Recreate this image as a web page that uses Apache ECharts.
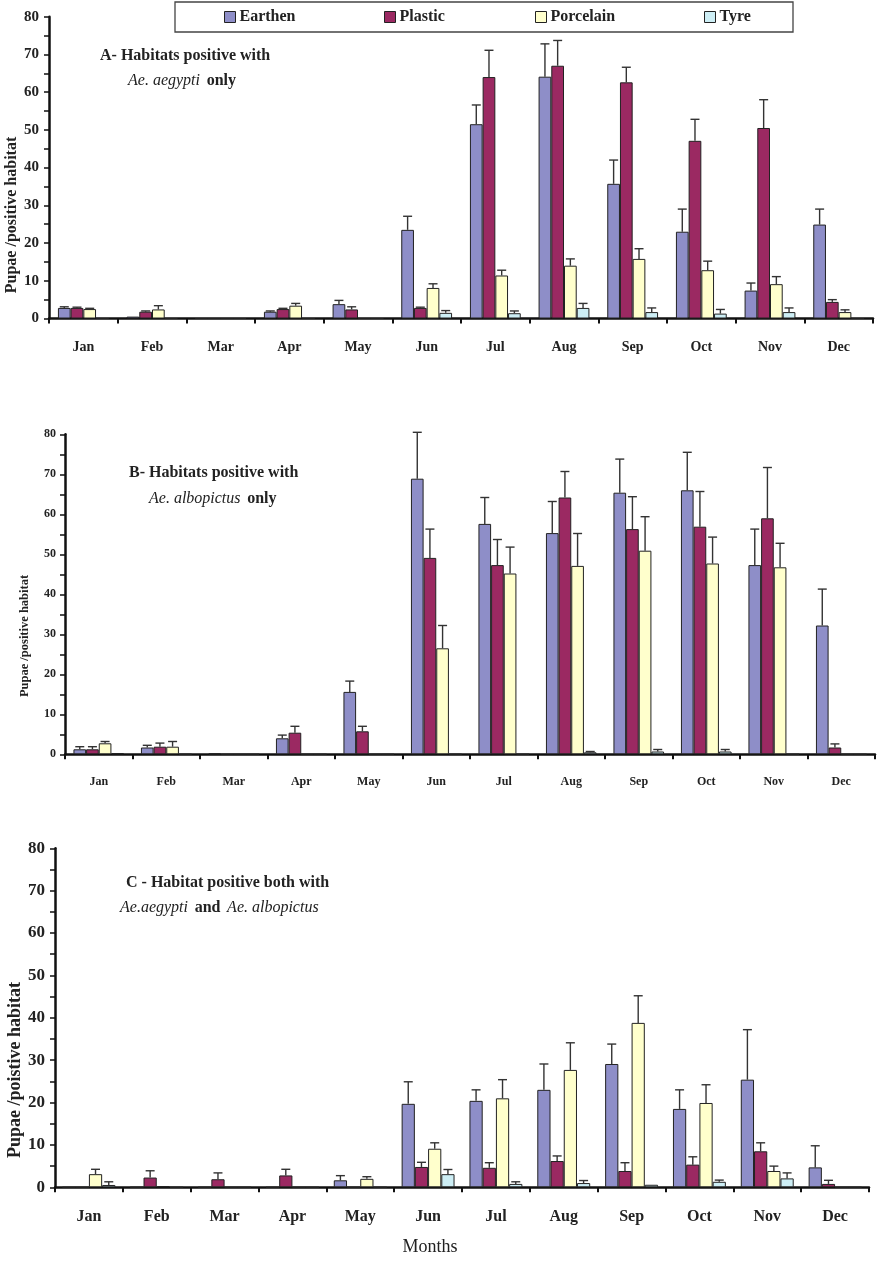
<!DOCTYPE html>
<html>
<head>
<meta charset="utf-8">
<script src="https://cdn.jsdelivr.net/npm/echarts@6/dist/echarts.min.js"></script>
<style>
  html, body { margin: 0; padding: 0; background: #fff; }
  #chart { width: 878px; height: 1262px; }
</style>
</head>
<body>
<div id="chart"></div>
<script>
// months on x axis
const months = ['Jan', 'Feb', 'Mar', 'Apr', 'May', 'Jun', 'Jul', 'Aug', 'Sep', 'Oct', 'Nov', 'Dec']
const materials = ['Earthen', 'Plastic', 'Porcelain', 'Tyre']

// A - Ae. aegypti only (mean, + SE)
const aEarthen = [2.8, 0.5, 0, 1.8, 3.8, 23.5, 51.5, 64.1, 35.7, 23, 7.4, 24.9]
const aEarthenErr = [0.3, 0, 0, 0.2, 1.0, 3.6, 5.1, 8.7, 6.3, 6.0, 2.0, 4.1]
const aPlastic = [2.8, 1.8, 0, 2.5, 2.4, 2.8, 64, 67, 62.6, 47.1, 50.5, 4.4]
const aPlasticErr = [0.2, 0.2, 0, 0.2, 0.7, 0.2, 7.1, 6.7, 4.0, 5.7, 7.5, 0.6]
const aPorcelain = [2.5, 2.4, 0, 3.4, 0, 8.1, 11.4, 14, 15.8, 12.8, 9.1, 1.7]
const aPorcelainErr = [0.2, 1.0, 0, 0.6, 0, 1.1, 1.4, 1.8, 2.7, 2.4, 2.0, 0.6]
const aTyre = [0, 0, 0, 0, 0, 1.5, 1.4, 2.8, 1.7, 1.3, 1.7, 0]
const aTyreErr = [0, 0, 0, 0, 0, 0.6, 0.6, 1.2, 1.1, 1.1, 1.1, 0]

// B - Ae. albopictus only
const bEarthen = [1.25, 1.7, 0.2, 4, 15.6, 68.9, 57.6, 55.3, 65.4, 66, 47.3, 32.2]
const bEarthenErr = [0.65, 0.55, 0, 0.8, 2.7, 11.6, 6.6, 7.9, 8.4, 9.5, 9.0, 9.1]
const bPlastic = [1.25, 1.9, 0, 5.4, 5.75, 49.1, 47.3, 64.2, 56.3, 56.9, 59, 1.7]
const bPlasticErr = [0.65, 0.9, 0, 1.6, 1.25, 7.2, 6.4, 6.5, 8.1, 8.8, 12.7, 0.9]
const bPorcelain = [2.75, 1.9, 0, 0, 0, 26.5, 45.2, 47.1, 50.9, 47.7, 46.75, 0]
const bPorcelainErr = [0.45, 1.3, 0, 0, 0, 5.7, 6.6, 8.1, 8.5, 6.6, 6.0, 0]
const bTyre = [0.3, 0, 0, 0, 0, 0, 0, 0.5, 0.7, 0.7, 0, 0]
const bTyreErr = [0, 0, 0, 0, 0, 0, 0, 0.2, 0.5, 0.5, 0, 0]

// C - both species
const cEarthen = [0, 0, 0, 0, 1.65, 19.7, 20.4, 23, 29.1, 18.5, 25.4, 4.7]
const cEarthenErr = [0, 0, 0, 0, 1.1, 5.2, 2.6, 6.1, 4.7, 4.5, 11.8, 5.1]
const cPlastic = [0, 2.3, 1.9, 2.8, 0, 4.8, 4.6, 6.2, 3.85, 5.35, 8.5, 0.8]
const cPlasticErr = [0, 1.6, 1.5, 1.45, 0, 1.1, 1.2, 1.2, 1.95, 1.85, 2.0, 0.85]
const cPorcelain = [3.1, 0.3, 0, 0, 2.0, 9.1, 21, 27.7, 38.8, 19.9, 3.85, 0]
const cPorcelainErr = [1.15, 0, 0, 0, 0.5, 1.4, 4.4, 6.4, 6.4, 4.3, 1.15, 0]
const cTyre = [0.55, 0, 0, 0, 0, 3.1, 0.8, 1.0, 0.6, 1.3, 2.1, 0]
const cTyreErr = [0.75, 0, 0, 0, 0, 1.1, 0.5, 0.6, 0, 0.4, 1.3, 0]

const colors = ['#8e8ec8', '#9b2962', '#ffffcc', '#cdeef5']
const serif = '"Liberation Serif", "DejaVu Serif", serif'
const ink = '#222'

const panels = [
  { vals: [aEarthen, aPlastic, aPorcelain, aTyre], errs: [aEarthenErr, aPlasticErr, aPorcelainErr, aTyreErr],
    grid: { left: 49, right: 5, top: 16.7, bottom: 943.5 }, gap: 0.26, ySize: 15, xSize: 14, yMargin: 10 },
  { vals: [bEarthen, bPlastic, bPorcelain, bTyre], errs: [bEarthenErr, bPlasticErr, bPorcelainErr, bTyreErr],
    grid: { left: 65, right: 3, top: 434.3, bottom: 507.7 }, gap: 0.25, ySize: 12, xSize: 12, yMargin: 9 },
  { vals: [cEarthen, cPlastic, cPorcelain, cTyre], errs: [cEarthenErr, cPlasticErr, cPorcelainErr, cTyreErr],
    grid: { left: 55, right: 9, top: 848.3, bottom: 74.7 }, gap: 0.22, ySize: 17, xSize: 16, yMargin: 10 }
]

const errRender = (s, gap) => (params, api) => {
  const i = api.value(0)
  const top = api.value(1)
  const base = api.value(2)
  if (!(top > base)) return
  const band = api.size([1, 0])[0]
  const bw = band * (1 - gap) / 4
  const t = api.coord([i, top])
  const b = api.coord([i, base])
  const x = t[0] - 2 * bw + (s + 0.5) * bw
  const st = { stroke: '#333', lineWidth: 1.4 }
  return {
    type: 'group',
    children: [
      { type: 'line', shape: { x1: x, y1: b[1], x2: x, y2: t[1] }, style: st },
      { type: 'line', shape: { x1: x - 4.5, y1: t[1], x2: x + 4.5, y2: t[1] }, style: st }
    ]
  }
}

const grids = []
const xAxes = []
const yAxes = []
const series = []

panels.forEach((p, g) => {
  grids.push(p.grid)
  xAxes.push({
    type: 'category', gridIndex: g, data: months,
    axisLine: { lineStyle: { color: '#111', width: 2.5 } },
    axisTick: { show: true, length: 5, lineStyle: { color: '#111', width: 2 } },
    axisLabel: { color: ink, fontFamily: serif, fontWeight: 'bold', fontSize: p.xSize, margin: 22 }
  })
  yAxes.push({
    type: 'value', gridIndex: g, min: 0, max: 80, interval: 10,
    axisLine: { show: true, lineStyle: { color: '#111', width: 2.5 } },
    axisTick: { show: true, length: 5, lineStyle: { color: '#111', width: 1.5 } },
    minorTick: { show: true, splitNumber: 2, length: 5, lineStyle: { color: '#111', width: 1.5 } },
    splitLine: { show: false },
    axisLabel: { color: ink, fontFamily: serif, fontWeight: 'bold', fontSize: p.ySize, margin: p.yMargin }
  })
  materials.forEach((m, s) => {
    series.push({
      name: m, type: 'bar', xAxisIndex: g, yAxisIndex: g,
      data: p.vals[s],
      barGap: '0%', barCategoryGap: (p.gap * 100) + '%',
      itemStyle: { color: colors[s], borderColor: '#222', borderWidth: 1 },
      emphasis: { disabled: true }
    })
  })
  materials.forEach((m, s) => {
    series.push({
      type: 'custom', xAxisIndex: g, yAxisIndex: g, z: 5,
      renderItem: errRender(s, p.gap),
      encode: { x: 0, y: 1 },
      data: p.vals[s].map((v, i) => [i, v + p.errs[s][i], v]),
      silent: true
    })
  })
})

const legendLeft = [224, 384, 535, 704]
const legends = materials.map((m, s) => ({
  data: [m], left: legendLeft[s], top: 9, padding: 0,
  icon: 'rect', itemWidth: 11, itemHeight: 11, itemGap: 4,
  itemStyle: { borderColor: '#222', borderWidth: 1 },
  textStyle: { color: ink, fontFamily: serif, fontWeight: 'bold', fontSize: 16, padding: [0, 0, 0, -1] },
  selectedMode: false
}))

const titleFont = (size, weight, style) => ({ fontFamily: serif, fontSize: size, fontWeight: weight, fontStyle: style, fill: ink })

const yTitle = (text, x, y, size) => ({
  type: 'text', x: x, y: y, rotation: Math.PI / 2,
  style: { text: text, align: 'center', verticalAlign: 'middle', textAlign: 'center', textVerticalAlign: 'middle',
    font: 'bold ' + size + 'px ' + serif, fill: ink }
})

const graphics = [
  { type: 'rect', shape: { x: 175, y: 2, width: 618, height: 30 }, style: { fill: 'none', stroke: '#444', lineWidth: 1.3 } },
  { type: 'text', left: 100, top: 48, style: { text: 'A- Habitats positive with', font: 'bold 16px ' + serif, fill: ink } },
  { type: 'text', left: 128, top: 73, style: { text: '{i|Ae. aegypti}  {b|only}',
    rich: { i: titleFont(16, 'normal', 'italic'), b: titleFont(16, 'bold', 'normal') } } },
  { type: 'text', left: 129, top: 465, style: { text: 'B- Habitats positive with', font: 'bold 16px ' + serif, fill: ink } },
  { type: 'text', left: 149, top: 491, style: { text: '{i|Ae. albopictus}  {b|only}',
    rich: { i: titleFont(16, 'normal', 'italic'), b: titleFont(16, 'bold', 'normal') } } },
  { type: 'text', left: 126, top: 875, style: { text: 'C - Habitat positive both with', font: 'bold 16px ' + serif, fill: ink } },
  { type: 'text', left: 120, top: 900, style: { text: '{i|Ae.aegypti}  {b|and}  {i|Ae. albopictus}',
    rich: { i: titleFont(16, 'normal', 'italic'), b: titleFont(16, 'bold', 'normal') } } },
  yTitle('Pupae /positive habitat', 12, 215, 16),
  yTitle('Pupae /positive habitat', 25, 636, 12.5),
  yTitle('Pupae /poistive habitat', 15, 1070, 18),
  { type: 'text', x: 430, y: 1247, style: { text: 'Months', align: 'center', verticalAlign: 'middle', textAlign: 'center', textVerticalAlign: 'middle',
    font: '18px ' + serif, fill: ink } }
]

const chart = echarts.init(document.getElementById('chart'), null, { renderer: 'canvas' })
chart.setOption({
  animation: false,
  backgroundColor: '#fff',
  legend: legends,
  grid: grids,
  xAxis: xAxes,
  yAxis: yAxes,
  series: series,
  graphic: graphics
})
</script>
</body>
</html>
